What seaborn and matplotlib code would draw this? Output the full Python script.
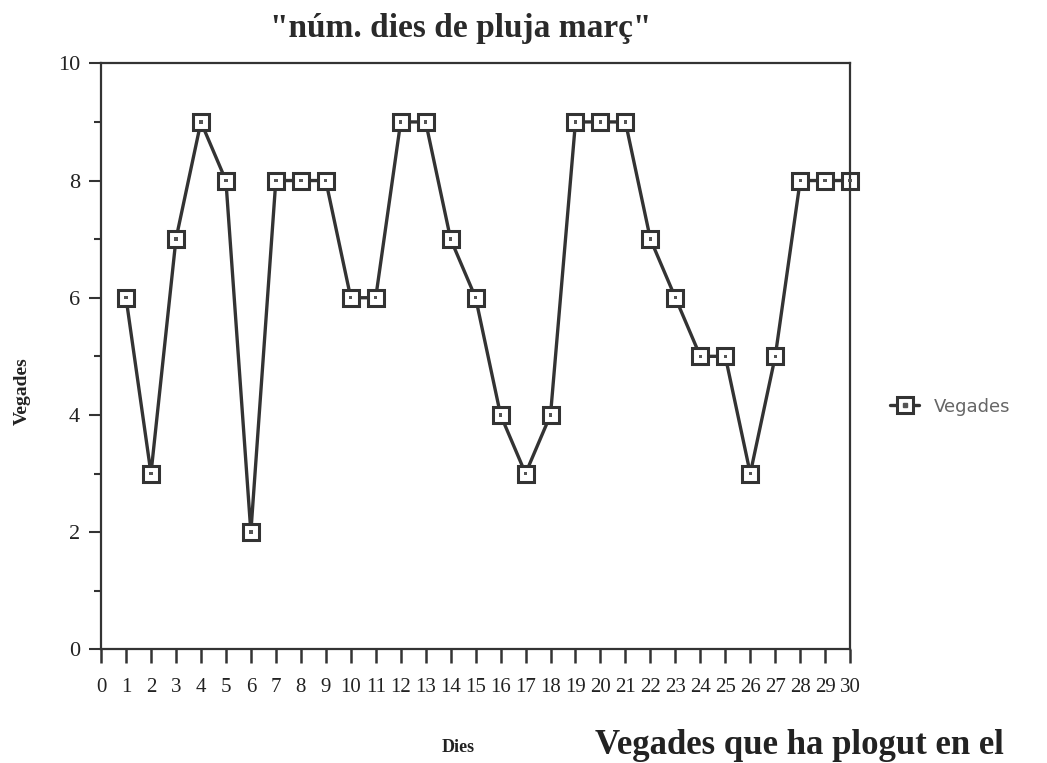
import numpy as np
import pandas as pd
import matplotlib
matplotlib.use("Agg")
import matplotlib.pyplot as plt
from matplotlib.lines import Line2D
import seaborn as sns

# data
dies = list(range(1, 31))
vegades = [6, 3, 7, 9, 8, 2, 8, 8, 8, 6, 6, 9, 9, 7, 6,
           4, 3, 4, 9, 9, 9, 7, 6, 5, 5, 3, 5, 8, 8, 8]
x_ticks = list(range(0, 31))
y_ticks = [0, 2, 4, 6, 8, 10]
y_minor = [1, 3, 5, 7, 9]

df = pd.DataFrame({"Dies": dies, "Vegades": vegades})

sns.set_style("white")
plt.rcParams['font.family'] = ['Liberation Serif', 'DejaVu Serif']
ink = "#333333"

fig = plt.figure(figsize=(10.47, 7.63), dpi=100)
ax = fig.add_axes([0.0965, 0.149, 0.7155, 0.768])

sns.lineplot(data=df, x="Dies", y="Vegades", ax=ax, color=ink, linewidth=2.4,
             marker="s", markersize=11, markerfacecolor="white",
             markeredgecolor=ink, markeredgewidth=2.2, legend=False,
             clip_on=False)
# small dot inside each square marker
sns.scatterplot(data=df, x="Dies", y="Vegades", ax=ax, marker="s", s=6,
                color="#555555", edgecolor="none", legend=False, zorder=5,
                clip_on=False)

ax.set_xlim(0, 30)
ax.set_ylim(0, 10)
ax.set_xticks(x_ticks)
ax.set_xticklabels([str(t) for t in x_ticks], fontsize=15, color="#222222")
ax.set_yticks(y_ticks)
ax.set_yticks(y_minor, minor=True)
ax.set_yticklabels([str(t) for t in y_ticks], fontsize=16, color="#222222")
ax.tick_params(axis="x", which="major", bottom=True, direction="out",
               length=10, width=1.8, color=ink, pad=11)
ax.tick_params(axis="y", which="major", left=True, direction="out",
               length=9, width=1.5, color=ink, pad=6)
ax.tick_params(axis="y", which="minor", left=True, direction="out",
               length=5, width=1.5, color=ink)
for s in ax.spines.values():
    s.set_color(ink)
    s.set_linewidth(1.6)

ax.set_xlabel("")
ax.set_ylabel("Vegades", fontsize=14, fontweight="bold", color="#222222")
ax.yaxis.set_label_coords(-0.094, 0.44)

fig.text(0.44, 0.963, '"núm. dies de pluja març"', ha="center", va="center",
         fontsize=24, fontweight="bold", color="#2a2a2a")
fig.text(0.438, 0.02, "Dies", ha="center", va="center", fontsize=13,
         fontweight="bold", color="#222222")
fig.text(0.568, 0.012, "Vegades que ha plogut en el", ha="left",
         va="baseline", fontsize=25, fontweight="bold", color="#222222")

h_line = Line2D([], [], color=ink, linewidth=2.4, marker="s", markersize=11,
                markerfacecolor="white", markeredgecolor=ink,
                markeredgewidth=2.2)
h_dot = Line2D([], [], linestyle="none", marker="s", markersize=2.5,
               color="#555555")
fig.legend([(h_line, h_dot)], ["Vegades"], loc="center left",
           bbox_to_anchor=(0.835, 0.467), frameon=False, handlelength=1.6,
           prop={"family": "DejaVu Sans", "size": 13}, labelcolor="#666666")

fig.savefig("out.png", dpi=100)
